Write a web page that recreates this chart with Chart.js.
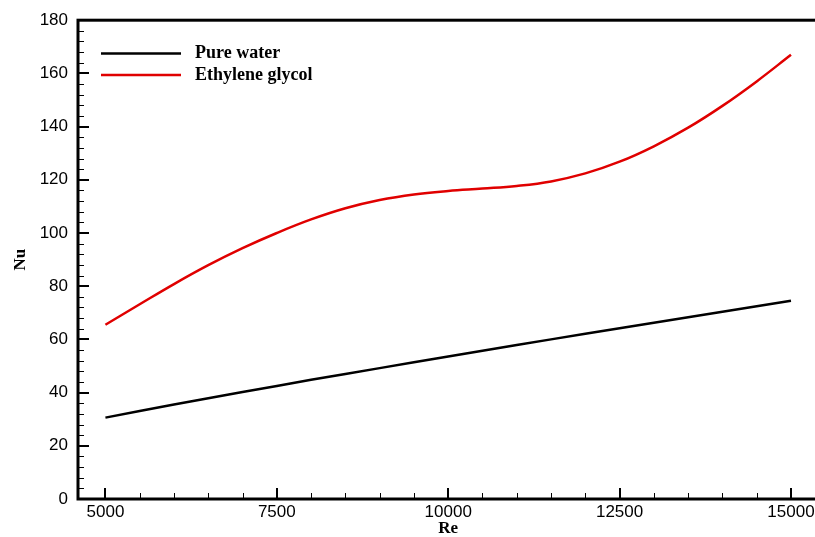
<!DOCTYPE html>
<html>
<head>
<meta charset="utf-8">
<script src="https://cdn.jsdelivr.net/npm/chart.js@4.4.1/dist/chart.umd.min.js"></script>
<style>
  html, body { margin: 0; padding: 0; background: #fff; overflow: hidden; }
  #wrap { width: 830px; height: 537px; }
</style>
</head>
<body>
<div id="wrap"><canvas id="nu-chart" width="830" height="537"></canvas></div>
<script>
// Nusselt number vs Reynolds number for the two coolants
var reWater = [5000, 6000, 7000, 8000, 9000, 10000, 11000, 12000, 13000, 14000, 15000];
var nuWater = [30.6, 35.5, 40.2, 44.8, 49.2, 53.6, 57.9, 62.1, 66.3, 70.4, 74.5];

var reGlycol = [5000, 5500, 6000, 6500, 7000, 7500, 8000, 8500, 9000, 9500, 10000,
                10500, 11000, 11500, 12000, 12500, 13000, 13500, 14000, 14500, 15000];
var nuGlycol = [65.5, 73.2, 80.8, 87.9, 94.3, 100.0, 105.1, 109.3, 112.4, 114.5, 115.8,
                116.7, 117.7, 119.4, 122.4, 126.8, 132.6, 139.6, 147.8, 157.0, 167.0];

var seriesNames = ['Pure water', 'Ethylene glycol'];
var seriesColors = ['#000000', '#e00000'];

var xTicks = [5000, 7500, 10000, 12500, 15000];
var yTicks = [0, 20, 40, 60, 80, 100, 120, 140, 160, 180];
var xMinorStep = 500;
var yMinorStep = 4;

function toPoints(xs, ys) {
  return xs.map(function (x, i) { return { x: x, y: ys[i] }; });
}

// frame with inward major/minor ticks on the bottom and left edges
var framePlugin = {
  id: 'frame',
  afterDraw: function (chart) {
    var ctx = chart.ctx, a = chart.chartArea;
    var xs = chart.scales.x, ys = chart.scales.y;
    ctx.save();
    ctx.strokeStyle = '#000';

    ctx.lineWidth = 1;
    ctx.beginPath();
    for (var v = Math.ceil(xs.min / xMinorStep) * xMinorStep; v <= xs.max; v += xMinorStep) {
      if (xTicks.indexOf(v) >= 0) continue;
      var px = Math.round(xs.getPixelForValue(v)) + 0.5;
      ctx.moveTo(px, a.bottom);
      ctx.lineTo(px, a.bottom - 6);
    }
    for (var w = 0; w <= ys.max; w += yMinorStep) {
      if (yTicks.indexOf(w) >= 0) continue;
      var py = Math.round(ys.getPixelForValue(w)) + 0.5;
      ctx.moveTo(a.left, py);
      ctx.lineTo(a.left + 6, py);
    }
    ctx.stroke();

    ctx.lineWidth = 2;
    ctx.beginPath();
    xTicks.forEach(function (t) {
      var px = Math.round(xs.getPixelForValue(t));
      ctx.moveTo(px, a.bottom);
      ctx.lineTo(px, a.bottom - 11);
    });
    yTicks.forEach(function (t) {
      var py = Math.round(ys.getPixelForValue(t));
      ctx.moveTo(a.left, py);
      ctx.lineTo(a.left + 11, py);
    });
    ctx.stroke();

    ctx.lineWidth = 3;
    ctx.strokeRect(a.left, a.top, a.right - a.left, a.bottom - a.top);
    ctx.restore();
  }
};

// line-sample legend in the upper left of the plot
var legendPlugin = {
  id: 'lineLegend',
  afterDraw: function (chart) {
    var ctx = chart.ctx;
    ctx.save();
    ctx.font = 'bold 18px "Liberation Serif", "Times New Roman", serif';
    ctx.textBaseline = 'middle';
    ctx.fillStyle = '#000';
    seriesNames.forEach(function (name, i) {
      var y = 53.5 + i * 21.5;
      ctx.strokeStyle = seriesColors[i];
      ctx.lineWidth = 2.5;
      ctx.beginPath();
      ctx.moveTo(101, y);
      ctx.lineTo(181, y);
      ctx.stroke();
      ctx.fillText(name, 195, y);
    });
    ctx.restore();
  }
};

var tickFont = { family: '"Liberation Sans", Arial, sans-serif', size: 17 };
var titleFont = { family: '"Liberation Serif", "Times New Roman", serif', size: 17, weight: 'bold', lineHeight: 1.2 };

new Chart(document.getElementById('nu-chart'), {
  type: 'line',
  data: {
    datasets: [{
      label: seriesNames[0],
      data: toPoints(reWater, nuWater),
      borderColor: seriesColors[0],
      borderWidth: 2.5,
      pointRadius: 0,
      tension: 0.3
    }, {
      label: seriesNames[1],
      data: toPoints(reGlycol, nuGlycol),
      borderColor: seriesColors[1],
      borderWidth: 2.5,
      pointRadius: 0,
      tension: 0.4
    }]
  },
  options: {
    responsive: false,
    animation: false,
    layout: { padding: { top: 18, left: 0, right: 11.6, bottom: 0 } },
    plugins: {
      legend: { display: false },
      tooltip: { enabled: false }
    },
    scales: {
      x: {
        type: 'linear',
        min: 4600,
        max: 15400,
        grid: { display: false, drawTicks: false },
        border: { display: false },
        afterBuildTicks: function (s) { s.ticks = xTicks.map(function (v) { return { value: v }; }); },
        afterFit: function (s) { s.height = 38; },
        ticks: {
          font: tickFont,
          color: '#000',
          padding: 3,
          maxRotation: 0,
          autoSkip: false,
          callback: function (v) { return String(v); }
        },
        title: { display: true, text: 'Re', color: '#000', font: titleFont, padding: { top: 0, bottom: -2 } }
      },
      y: {
        min: 0,
        max: 180,
        grid: { display: false, drawTicks: false },
        border: { display: false },
        afterBuildTicks: function (s) { s.ticks = yTicks.map(function (v) { return { value: v }; }); },
        afterFit: function (s) { s.width = 78; },
        ticks: {
          font: tickFont,
          color: '#000',
          padding: 10,
          autoSkip: false,
          callback: function (v) { return String(v); }
        },
        title: { display: true, text: 'Nu', color: '#000', font: titleFont, padding: { top: 10, bottom: 0 } }
      }
    }
  },
  plugins: [framePlugin, legendPlugin]
});
</script>
</body>
</html>
